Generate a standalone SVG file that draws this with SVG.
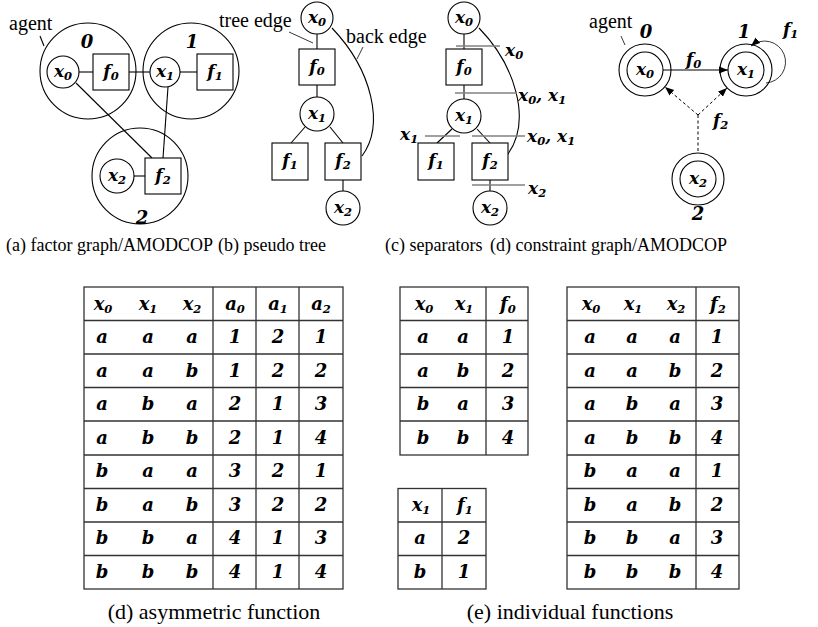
<svg xmlns="http://www.w3.org/2000/svg" width="818" height="627" viewBox="0 0 818 627">
<defs>
<style>
.ln{stroke:#000;stroke-width:1.1;fill:none}
.thin{stroke:#222;stroke-width:0.9;fill:none}
.nd{fill:#fff;stroke:#000;stroke-width:1.1}
.ag{fill:none;stroke:#000;stroke-width:1.1}
.m{font-family:"DejaVu Serif","Liberation Serif",serif;font-style:italic;font-weight:bold;font-size:17px;text-anchor:middle;fill:#000}
.st{text-anchor:start}
.s{font-size:11.5px}
.lbl{font-family:"DejaVu Serif","Liberation Serif",serif;font-style:italic;font-weight:bold;font-size:18px;text-anchor:middle;fill:#000}
.cap{font-family:"Liberation Serif","Times New Roman",serif;font-size:18px;fill:#000}
.nt{font-size:20px}
.bc{font-size:22px;text-anchor:middle}
.sep{stroke:#808080;stroke-width:1.6}
.dash{stroke:#000;stroke-width:1;stroke-dasharray:3 2.5;fill:none}
.tb{stroke:#333;stroke-width:1.3;fill:none}
.tt{font-size:18px}
</style>
<marker id="ah" viewBox="0 0 10 10" refX="10" refY="5" markerWidth="9" markerHeight="9" markerUnits="userSpaceOnUse" orient="auto"><path d="M0,1 L10,5 L0,9 z" fill="#000"/></marker>
</defs>
<rect width="818" height="627" fill="#fff"/>

<!-- (a) factor graph -->
<g id="a-edges">
<line class="ln" x1="79" y1="72" x2="93" y2="72"/>
<line class="ln" x1="129" y1="72" x2="150" y2="72"/>
<line class="ln" x1="180" y1="72" x2="197" y2="72"/>
<line class="ln" x1="76" y1="83" x2="152" y2="158"/>
<line class="ln" x1="168" y1="87" x2="163" y2="158"/>
<line class="ln" x1="134" y1="176" x2="145" y2="176"/>
<line class="ln" x1="40" y1="36" x2="44" y2="46"/>
</g>
<g id="a-agent0"><circle class="ag" cx="88" cy="71" r="48"/><text class="lbl" x="87" y="48">0</text></g>
<g id="a-agent1"><circle class="ag" cx="191" cy="71" r="48"/><text class="lbl" x="192" y="48">1</text></g>
<g id="a-agent2"><circle class="ag" cx="140" cy="176" r="48"/><text class="lbl" x="142" y="224">2</text></g>
<text class="cap nt" x="9" y="30">agent</text>
<g id="a-x0"><circle class="nd" cx="63" cy="72" r="16"/><text class="m" x="63" y="77">x<tspan class="s" dy="3">0</tspan></text></g>
<g id="a-f0"><rect class="nd" x="93" y="54" width="36" height="36"/><text class="m" x="111" y="77">f<tspan class="s" dy="3">0</tspan></text></g>
<g id="a-x1"><circle class="nd" cx="165" cy="72" r="15"/><text class="m" x="165" y="77">x<tspan class="s" dy="3">1</tspan></text></g>
<g id="a-f1"><rect class="nd" x="197" y="54" width="36" height="36"/><text class="m" x="215" y="77">f<tspan class="s" dy="3">1</tspan></text></g>
<g id="a-x2"><circle class="nd" cx="117" cy="176" r="17"/><text class="m" x="117" y="181">x<tspan class="s" dy="3">2</tspan></text></g>
<g id="a-f2"><rect class="nd" x="145" y="158" width="36" height="36"/><text class="m" x="163" y="181">f<tspan class="s" dy="3">2</tspan></text></g>

<!-- (b) pseudo tree -->
<g id="b-edges">
<line class="ln" x1="317" y1="34" x2="317" y2="49"/>
<line class="ln" x1="317" y1="85" x2="317" y2="97"/>
<line class="ln" x1="305" y1="127" x2="291" y2="143"/>
<line class="ln" x1="330" y1="127" x2="343" y2="143"/>
<line class="ln" x1="343" y1="180" x2="343" y2="191"/>
<path class="ln" d="M332,28 C372,70 385,125 362,156"/>
<line class="thin" x1="289" y1="32" x2="313" y2="43"/>
<line class="thin" x1="363" y1="47" x2="357" y2="59"/>
</g>
<text class="cap nt" x="219" y="27">tree edge</text>
<text class="cap nt" x="346" y="43">back edge</text>
<g id="b-x0"><circle class="nd" cx="317" cy="18" r="16"/><text class="m" x="317" y="23">x<tspan class="s" dy="3">0</tspan></text></g>
<g id="b-f0"><rect class="nd" x="299" y="49" width="36" height="36"/><text class="m" x="317" y="72">f<tspan class="s" dy="3">0</tspan></text></g>
<g id="b-x1"><circle class="nd" cx="317" cy="114" r="17"/><text class="m" x="317" y="119">x<tspan class="s" dy="3">1</tspan></text></g>
<g id="b-f1"><rect class="nd" x="272" y="143" width="36" height="37"/><text class="m" x="290" y="166">f<tspan class="s" dy="3">1</tspan></text></g>
<g id="b-f2"><rect class="nd" x="325" y="143" width="36" height="37"/><text class="m" x="343" y="166">f<tspan class="s" dy="3">2</tspan></text></g>
<g id="b-x2"><circle class="nd" cx="343" cy="208" r="17"/><text class="m" x="343" y="213">x<tspan class="s" dy="3">2</tspan></text></g>

<!-- (c) separators -->
<g id="c-edges">
<line class="ln" x1="464" y1="34" x2="464" y2="49"/>
<line class="ln" x1="464" y1="85" x2="464" y2="99"/>
<line class="ln" x1="452" y1="129" x2="437" y2="143"/>
<line class="ln" x1="477" y1="129" x2="490" y2="143"/>
<line class="ln" x1="490" y1="180" x2="490" y2="191"/>
<path class="ln" d="M479,28 C515,65 532,120 508,154"/>
<line class="sep" x1="456" y1="46" x2="500" y2="46"/>
<line class="sep" x1="455" y1="93" x2="517" y2="93"/>
<line class="sep" x1="425" y1="136" x2="460" y2="136"/>
<line class="sep" x1="472" y1="136" x2="525" y2="136"/>
<line class="sep" x1="472" y1="185" x2="525" y2="185"/>
</g>
<text class="m st" x="505" y="56">x<tspan class="s" dy="3">0</tspan></text>
<text class="m st" x="518" y="101">x<tspan class="s" dy="3">0</tspan><tspan dy="-3">, x</tspan><tspan class="s" dy="3">1</tspan></text>
<text class="m st" x="400" y="140">x<tspan class="s" dy="3">1</tspan></text>
<text class="m st" x="527" y="142">x<tspan class="s" dy="3">0</tspan><tspan dy="-3">, x</tspan><tspan class="s" dy="3">1</tspan></text>
<text class="m st" x="528" y="194">x<tspan class="s" dy="3">2</tspan></text>
<g id="c-x0"><circle class="nd" cx="464" cy="18" r="16"/><text class="m" x="464" y="23">x<tspan class="s" dy="3">0</tspan></text></g>
<g id="c-f0"><rect class="nd" x="446" y="49" width="36" height="36"/><text class="m" x="464" y="72">f<tspan class="s" dy="3">0</tspan></text></g>
<g id="c-x1"><circle class="nd" cx="464" cy="116" r="17"/><text class="m" x="464" y="121">x<tspan class="s" dy="3">1</tspan></text></g>
<g id="c-f1"><rect class="nd" x="418" y="143" width="36" height="37"/><text class="m" x="436" y="166">f<tspan class="s" dy="3">1</tspan></text></g>
<g id="c-f2"><rect class="nd" x="472" y="143" width="36" height="37"/><text class="m" x="490" y="166">f<tspan class="s" dy="3">2</tspan></text></g>
<g id="c-x2"><circle class="nd" cx="490" cy="208" r="17"/><text class="m" x="490" y="213">x<tspan class="s" dy="3">2</tspan></text></g>

<!-- (d) constraint graph -->
<g id="d-edges">
<line class="ln" x1="663" y1="70" x2="728" y2="70" marker-end="url(#ah)"/>
<line class="dash" x1="698" y1="115" x2="665" y2="87" marker-end="url(#ah)"/>
<line class="dash" x1="698" y1="115" x2="727" y2="88" marker-end="url(#ah)"/>
<line class="dash" x1="698" y1="115" x2="698" y2="153"/>
<path class="thin" d="M766,83 A21,21 0 1 0 751,46" marker-end="url(#ah)"/>
<line class="thin" x1="621" y1="36" x2="625" y2="45"/>
</g>
<text class="cap nt" x="589" y="28">agent</text>
<text class="m st" x="686" y="65">f<tspan class="s" dy="3">0</tspan></text>
<text class="m st" x="713" y="126">f<tspan class="s" dy="3">2</tspan></text>
<text class="m st" x="783" y="35">f<tspan class="s" dy="3">1</tspan></text>
<g id="d-x0"><circle class="ag" cx="645" cy="70" r="26"/><circle class="ag" cx="645" cy="70" r="18"/><text class="m" x="645" y="75">x<tspan class="s" dy="3">0</tspan></text><text class="lbl" x="646" y="38">0</text></g>
<g id="d-x1"><circle class="ag" cx="746" cy="70" r="26"/><circle class="ag" cx="746" cy="70" r="18"/><text class="m" x="746" y="75">x<tspan class="s" dy="3">1</tspan></text><text class="lbl" x="744" y="38">1</text></g>
<g id="d-x2"><circle class="ag" cx="698" cy="179" r="26"/><circle class="ag" cx="698" cy="179" r="18"/><text class="m" x="698" y="184">x<tspan class="s" dy="3">2</tspan></text><text class="lbl" x="698" y="220">2</text></g>

<!-- captions -->
<text class="cap" x="6" y="251">(a) factor graph/AMODCOP</text>
<text class="cap" x="218" y="251">(b) pseudo tree</text>
<text class="cap" x="385" y="251">(c) separators</text>
<text class="cap" x="490" y="251">(d) constraint graph/AMODCOP</text>

<!-- table: asymmetric function -->
<g id="t-asym">
<rect class="tb" x="84" y="287" width="259" height="302"/>
<path class="tb" d="M213,287V589M256,287V589M299,287V589M84,320.5H343M84,354H343M84,387.5H343M84,421H343M84,455H343M84,488.5H343M84,522H343M84,555.5H343"/>
<g class="m tt">
<text x="103" y="310">x<tspan class="s" dy="3">0</tspan></text><text x="148" y="310">x<tspan class="s" dy="3">1</tspan></text><text x="192" y="310">x<tspan class="s" dy="3">2</tspan></text><text x="235" y="310">a<tspan class="s" dy="3">0</tspan></text><text x="278" y="310">a<tspan class="s" dy="3">1</tspan></text><text x="321" y="310">a<tspan class="s" dy="3">2</tspan></text>
<text x="102" y="343">a</text><text x="148" y="343">a</text><text x="192" y="343">a</text><text x="235" y="343">1</text><text x="278" y="343">2</text><text x="321" y="343">1</text>
<text x="102" y="377">a</text><text x="148" y="377">a</text><text x="192" y="377">b</text><text x="235" y="377">1</text><text x="278" y="377">2</text><text x="321" y="377">2</text>
<text x="102" y="410">a</text><text x="148" y="410">b</text><text x="192" y="410">a</text><text x="235" y="410">2</text><text x="278" y="410">1</text><text x="321" y="410">3</text>
<text x="102" y="444">a</text><text x="148" y="444">b</text><text x="192" y="444">b</text><text x="235" y="444">2</text><text x="278" y="444">1</text><text x="321" y="444">4</text>
<text x="102" y="477">b</text><text x="148" y="477">a</text><text x="192" y="477">a</text><text x="235" y="477">3</text><text x="278" y="477">2</text><text x="321" y="477">1</text>
<text x="102" y="511">b</text><text x="148" y="511">a</text><text x="192" y="511">b</text><text x="235" y="511">3</text><text x="278" y="511">2</text><text x="321" y="511">2</text>
<text x="102" y="544">b</text><text x="148" y="544">b</text><text x="192" y="544">a</text><text x="235" y="544">4</text><text x="278" y="544">1</text><text x="321" y="544">3</text>
<text x="102" y="578">b</text><text x="148" y="578">b</text><text x="192" y="578">b</text><text x="235" y="578">4</text><text x="278" y="578">1</text><text x="321" y="578">4</text>
</g>
</g>
<text class="cap bc" x="214" y="619">(d) asymmetric function</text>

<!-- table f0 -->
<g id="t-f0">
<rect class="tb" x="400" y="287" width="128" height="168"/>
<path class="tb" d="M486,287V455M400,320.5H528M400,354H528M400,387.5H528M400,421H528"/>
<g class="m tt">
<text x="424" y="310">x<tspan class="s" dy="3">0</tspan></text><text x="464" y="310">x<tspan class="s" dy="3">1</tspan></text><text x="508" y="310">f<tspan class="s" dy="3">0</tspan></text>
<text x="423" y="343">a</text><text x="463" y="343">a</text><text x="508" y="343">1</text>
<text x="423" y="377">a</text><text x="463" y="377">b</text><text x="508" y="377">2</text>
<text x="423" y="410">b</text><text x="463" y="410">a</text><text x="508" y="410">3</text>
<text x="423" y="444">b</text><text x="463" y="444">b</text><text x="508" y="444">4</text>
</g>
</g>

<!-- table f1 -->
<g id="t-f1">
<rect class="tb" x="398" y="488.5" width="88" height="100.5"/>
<path class="tb" d="M442,488.5V589M398,522H486M398,555.5H486"/>
<g class="m tt">
<text x="421" y="511">x<tspan class="s" dy="3">1</tspan></text><text x="465" y="511">f<tspan class="s" dy="3">1</tspan></text>
<text x="420" y="544">a</text><text x="464" y="544">2</text>
<text x="420" y="578">b</text><text x="464" y="578">1</text>
</g>
</g>

<!-- table f2 -->
<g id="t-f2">
<rect class="tb" x="567" y="287" width="172" height="302"/>
<path class="tb" d="M696,287V589M567,320.5H739M567,354H739M567,387.5H739M567,421H739M567,455H739M567,488.5H739M567,522H739M567,555.5H739"/>
<g class="m tt">
<text x="591" y="310">x<tspan class="s" dy="3">0</tspan></text><text x="633" y="310">x<tspan class="s" dy="3">1</tspan></text><text x="676" y="310">x<tspan class="s" dy="3">2</tspan></text><text x="718" y="310">f<tspan class="s" dy="3">2</tspan></text>
<text x="590" y="343">a</text><text x="632" y="343">a</text><text x="675" y="343">a</text><text x="717" y="343">1</text>
<text x="590" y="377">a</text><text x="632" y="377">a</text><text x="675" y="377">b</text><text x="717" y="377">2</text>
<text x="590" y="410">a</text><text x="632" y="410">b</text><text x="675" y="410">a</text><text x="717" y="410">3</text>
<text x="590" y="444">a</text><text x="632" y="444">b</text><text x="675" y="444">b</text><text x="717" y="444">4</text>
<text x="590" y="477">b</text><text x="632" y="477">a</text><text x="675" y="477">a</text><text x="717" y="477">1</text>
<text x="590" y="511">b</text><text x="632" y="511">a</text><text x="675" y="511">b</text><text x="717" y="511">2</text>
<text x="590" y="544">b</text><text x="632" y="544">b</text><text x="675" y="544">a</text><text x="717" y="544">3</text>
<text x="590" y="578">b</text><text x="632" y="578">b</text><text x="675" y="578">b</text><text x="717" y="578">4</text>
</g>
</g>
<text class="cap bc" x="570" y="619">(e) individual functions</text>
</svg>
